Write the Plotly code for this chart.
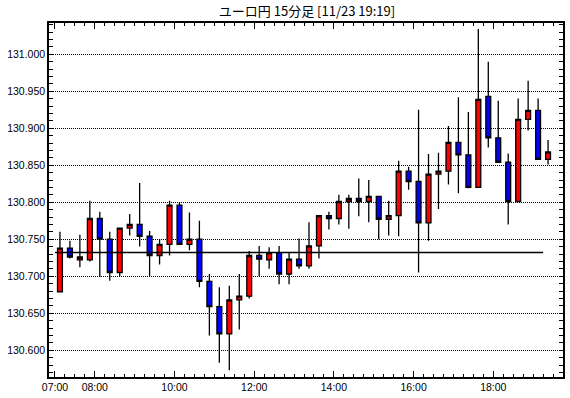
import pandas as pd
import plotly.graph_objects as go

# ---- data (EUR/JPY, 15-minute candles, 11/23) ----
start_time = "2023-11-23 07:00"
n_candles = 50
opens = [130.679, 130.738, 130.722, 130.722, 130.778, 130.750, 130.705, 130.765, 130.770, 130.754,
         130.728, 130.743, 130.796, 130.743, 130.750, 130.693, 130.659, 130.622, 130.668, 130.673,
         130.728, 130.722, 130.732, 130.703, 130.723, 130.714, 130.741, 130.782, 130.778, 130.801,
         130.805, 130.801, 130.808, 130.777, 130.782, 130.842, 130.828, 130.772, 130.838, 130.842,
         130.881, 130.864, 130.820, 130.943, 130.887, 130.854, 130.801, 130.912, 130.924, 130.858]
highs = [130.760, 130.748, 130.756, 130.802, 130.787, 130.760, 130.765, 130.784, 130.826, 130.761,
         130.750, 130.802, 130.800, 130.786, 130.775, 130.703, 130.685, 130.687, 130.703, 130.734,
         130.741, 130.739, 130.741, 130.732, 130.751, 130.773, 130.782, 130.787, 130.810, 130.810,
         130.832, 130.830, 130.808, 130.802, 130.856, 130.848, 130.925, 130.865, 130.867, 130.903,
         130.942, 130.922, 131.034, 130.990, 130.937, 130.866, 130.940, 130.964, 130.940, 130.884]
lows = [130.679, 130.724, 130.712, 130.720, 130.699, 130.694, 130.700, 130.755, 130.740, 130.700,
        130.716, 130.728, 130.743, 130.735, 130.685, 130.620, 130.583, 130.573, 130.628, 130.670,
        130.700, 130.710, 130.689, 130.689, 130.710, 130.710, 130.724, 130.763, 130.770, 130.764,
        130.781, 130.773, 130.750, 130.755, 130.754, 130.817, 130.705, 130.748, 130.791, 130.824,
        130.812, 130.819, 130.820, 130.874, 130.854, 130.770, 130.801, 130.897, 130.858, 130.851]
closes = [130.738, 130.726, 130.726, 130.778, 130.750, 130.705, 130.765, 130.770, 130.754, 130.728,
          130.743, 130.796, 130.743, 130.750, 130.693, 130.659, 130.622, 130.668, 130.673, 130.728,
          130.723, 130.732, 130.703, 130.723, 130.714, 130.741, 130.782, 130.778, 130.801, 130.805,
          130.801, 130.808, 130.777, 130.782, 130.842, 130.828, 130.772, 130.838, 130.842, 130.881,
          130.864, 130.820, 130.939, 130.887, 130.854, 130.801, 130.912, 130.924, 130.858, 130.868]
ref_level = 130.732
ref_start = "2023-11-23 07:00"
ref_end = "2023-11-23 19:15"
tick_times = ["2023-11-23 07:00", "2023-11-23 08:00", "2023-11-23 10:00", "2023-11-23 12:00",
              "2023-11-23 14:00", "2023-11-23 16:00", "2023-11-23 18:00"]
tick_labels = ["07:00", "08:00", "10:00", "12:00", "14:00", "16:00", "18:00"]
title_text = "ユーロ円 15分足 [11/23 19:19]"

times = pd.date_range(start_time, periods=n_candles, freq="15min")

fig = go.Figure()
fig.add_trace(go.Candlestick(
    x=times, open=opens, high=highs, low=lows, close=closes,
    xperiod=900000, xperiodalignment="middle",
    increasing=dict(fillcolor="#ff0000", line=dict(color="black", width=1.3)),
    decreasing=dict(fillcolor="#0000ff", line=dict(color="black", width=1.3)),
    showlegend=False, hoverinfo="skip",
))
fig.add_trace(go.Scatter(
    x=[ref_start, ref_end], y=[ref_level, ref_level], mode="lines",
    line=dict(color="black", width=1.5), showlegend=False, hoverinfo="skip",
))

axis_font = dict(family="Liberation Sans, Arial, sans-serif", size=10.5, color="black")
fig.update_layout(
    width=570, height=398,
    margin=dict(l=49, r=5, t=23, b=21),
    paper_bgcolor="white", plot_bgcolor="white",
    boxgap=0.3,
    hovermode=False,
    title=dict(text=title_text, x=(49 + 565) / 2 / 570, xanchor="center",
               y=1 - 11 / 398, yanchor="middle", yref="container",
               font=dict(family="Noto Sans CJK JP", size=13, color="black")),
    xaxis=dict(
        type="date",
        range=["2023-11-23 06:51", "2023-11-23 19:45"],
        rangeslider=dict(visible=False),
        showgrid=False, zeroline=False,
        showline=True, linecolor="black", linewidth=1.5, mirror="allticks",
        tickmode="array", tickvals=tick_times, ticktext=tick_labels,
        ticks="inside", ticklen=6, tickwidth=1, tickcolor="black",
        tickfont=axis_font,
        minor=dict(tickmode="linear", dtick=900000, tick0="2023-11-23 07:00",
                   ticks="inside", ticklen=3.5, tickwidth=1, tickcolor="black",
                   showgrid=False),
    ),
    yaxis=dict(
        range=[130.5638, 131.0422],
        tick0=130.6, dtick=0.05, tickformat=".3f",
        showgrid=True, gridcolor="black", gridwidth=1, griddash="1px,1px",
        zeroline=False,
        showline=True, linecolor="black", linewidth=1.5, mirror="allticks",
        ticks="inside", ticklen=4, tickwidth=1, tickcolor="black",
        tickfont=axis_font,
        minor=dict(dtick=0.01, tick0=130.6, ticks="inside", ticklen=4,
                   tickwidth=1, tickcolor="black", showgrid=False),
    ),
)

fig.write_html(
    "out.html",
    config={"displayModeBar": False},
    post_script="document.body.style.margin='0';document.body.style.padding='0';",
)
